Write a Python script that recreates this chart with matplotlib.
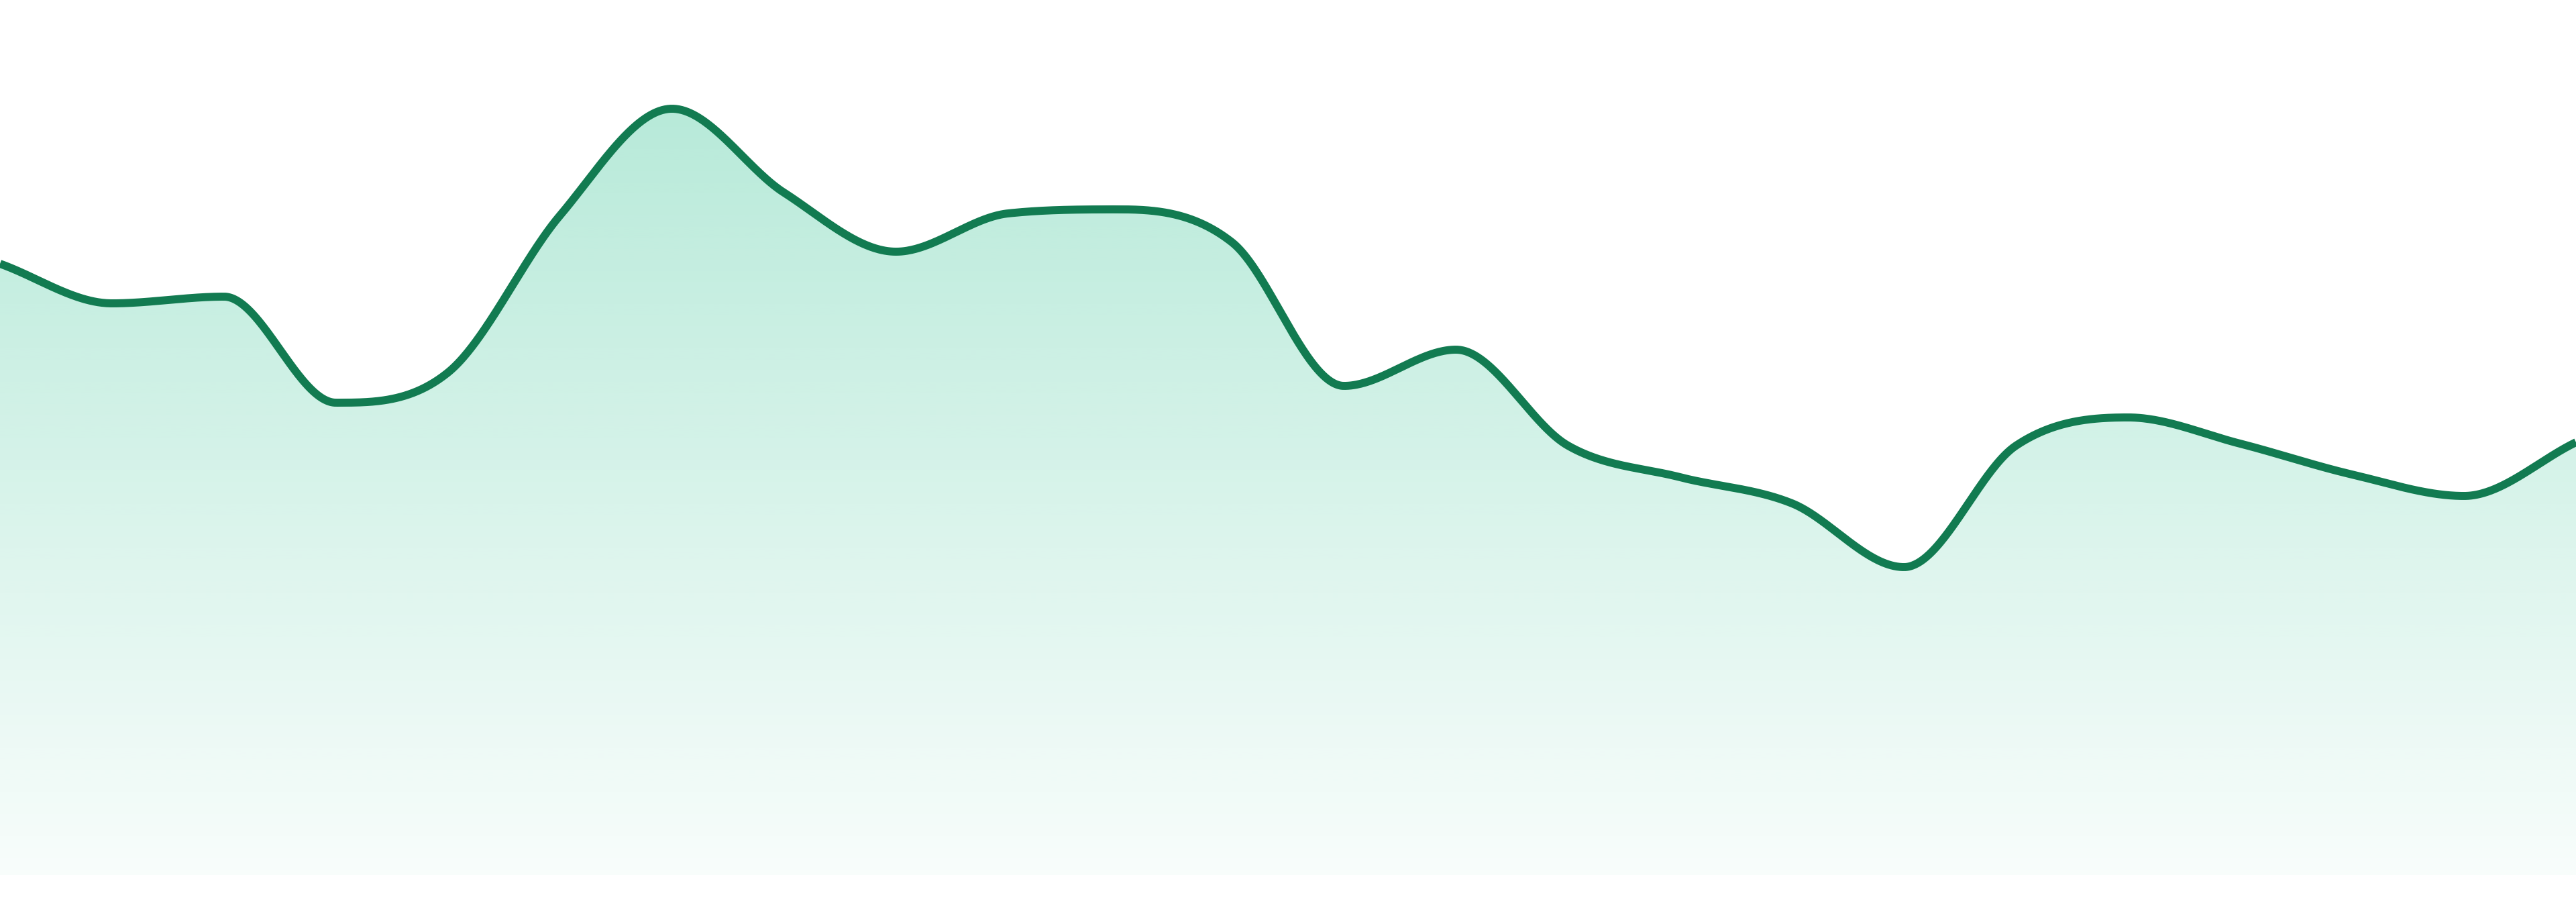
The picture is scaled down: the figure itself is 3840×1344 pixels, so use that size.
import numpy as np
import matplotlib
matplotlib.use("Agg")
import matplotlib.pyplot as plt
from matplotlib.colors import to_rgb

# ---- data ----
index = list(range(24))
values = [91.1, 85.2, 86.2, 70.4, 74.9, 98.3, 114.2, 101.7, 92.9, 98.6, 99.2, 94.3,
          72.9, 78.3, 64.0, 59.3, 55.4, 45.9, 64.0, 68.2, 64.3, 59.7, 56.5, 64.5]

line_color = "#127b51"
fill_color = "#10b981"


def monotone_fc(x, y, n=80):
    """Fritsch-Carlson monotone cubic (as used by Chart.js 'monotone')."""
    x = np.asarray(x, float)
    y = np.asarray(y, float)
    m = len(x)
    h = np.diff(x)
    d = np.diff(y) / h
    t = np.zeros(m)
    t[0] = d[0]
    t[-1] = d[-1]
    for i in range(1, m - 1):
        if d[i - 1] == 0 or d[i] == 0 or np.sign(d[i - 1]) != np.sign(d[i]):
            t[i] = 0.0
        else:
            t[i] = (d[i - 1] + d[i]) / 2
    for i in range(m - 1):
        if abs(d[i]) < 1e-12:
            t[i] = t[i + 1] = 0.0
            continue
        a = t[i] / d[i]
        b = t[i + 1] / d[i]
        s = a * a + b * b
        if s > 9:
            tau = 3 / np.sqrt(s)
            t[i] = tau * a * d[i]
            t[i + 1] = tau * b * d[i]
    xs, ys = [], []
    for i in range(m - 1):
        u = np.linspace(0, 1, n, endpoint=(i == m - 2))
        dx = h[i]
        p0 = np.array([x[i], y[i]])
        p3 = np.array([x[i + 1], y[i + 1]])
        p1 = np.array([x[i] + dx / 3, y[i] + dx / 3 * t[i]])
        p2 = np.array([x[i + 1] - dx / 3, y[i + 1] - dx / 3 * t[i + 1]])
        b = ((1 - u) ** 3)[:, None] * p0 + (3 * (1 - u) ** 2 * u)[:, None] * p1 \
            + (3 * (1 - u) * u ** 2)[:, None] * p2 + (u ** 3)[:, None] * p3
        xs.append(b[:, 0])
        ys.append(b[:, 1])
    return np.concatenate(xs), np.concatenate(ys)


fig = plt.figure(figsize=(38.4, 13.44), dpi=100, facecolor="white")
ax = fig.add_axes([0, 0, 1, 1])
ax.set_xlim(index[0], index[-1])
ax.set_ylim(-4, 130.4)
ax.axis("off")

xs, ys = monotone_fc(index, values)

poly = ax.fill_between(xs, ys, 0, color="none", linewidth=0)
ymax = max(values)
rgb = to_rgb(fill_color)
grad = np.zeros((256, 2, 4))
grad[..., 0], grad[..., 1], grad[..., 2] = rgb
alpha = np.linspace(0.30, 0.03, 256)  # top -> bottom
grad[..., 3] = alpha[:, None]
im = ax.imshow(grad, extent=[index[0], index[-1], 0, ymax], origin="upper",
               aspect="auto", interpolation="bilinear", zorder=1)
clip = poly.get_paths()[0]
im.set_clip_path(clip, transform=ax.transData)

ax.plot(xs, ys, color=line_color, linewidth=8.6, solid_capstyle="butt",
        solid_joinstyle="round", zorder=3)

fig.savefig("out.png", dpi=100, facecolor="white")
